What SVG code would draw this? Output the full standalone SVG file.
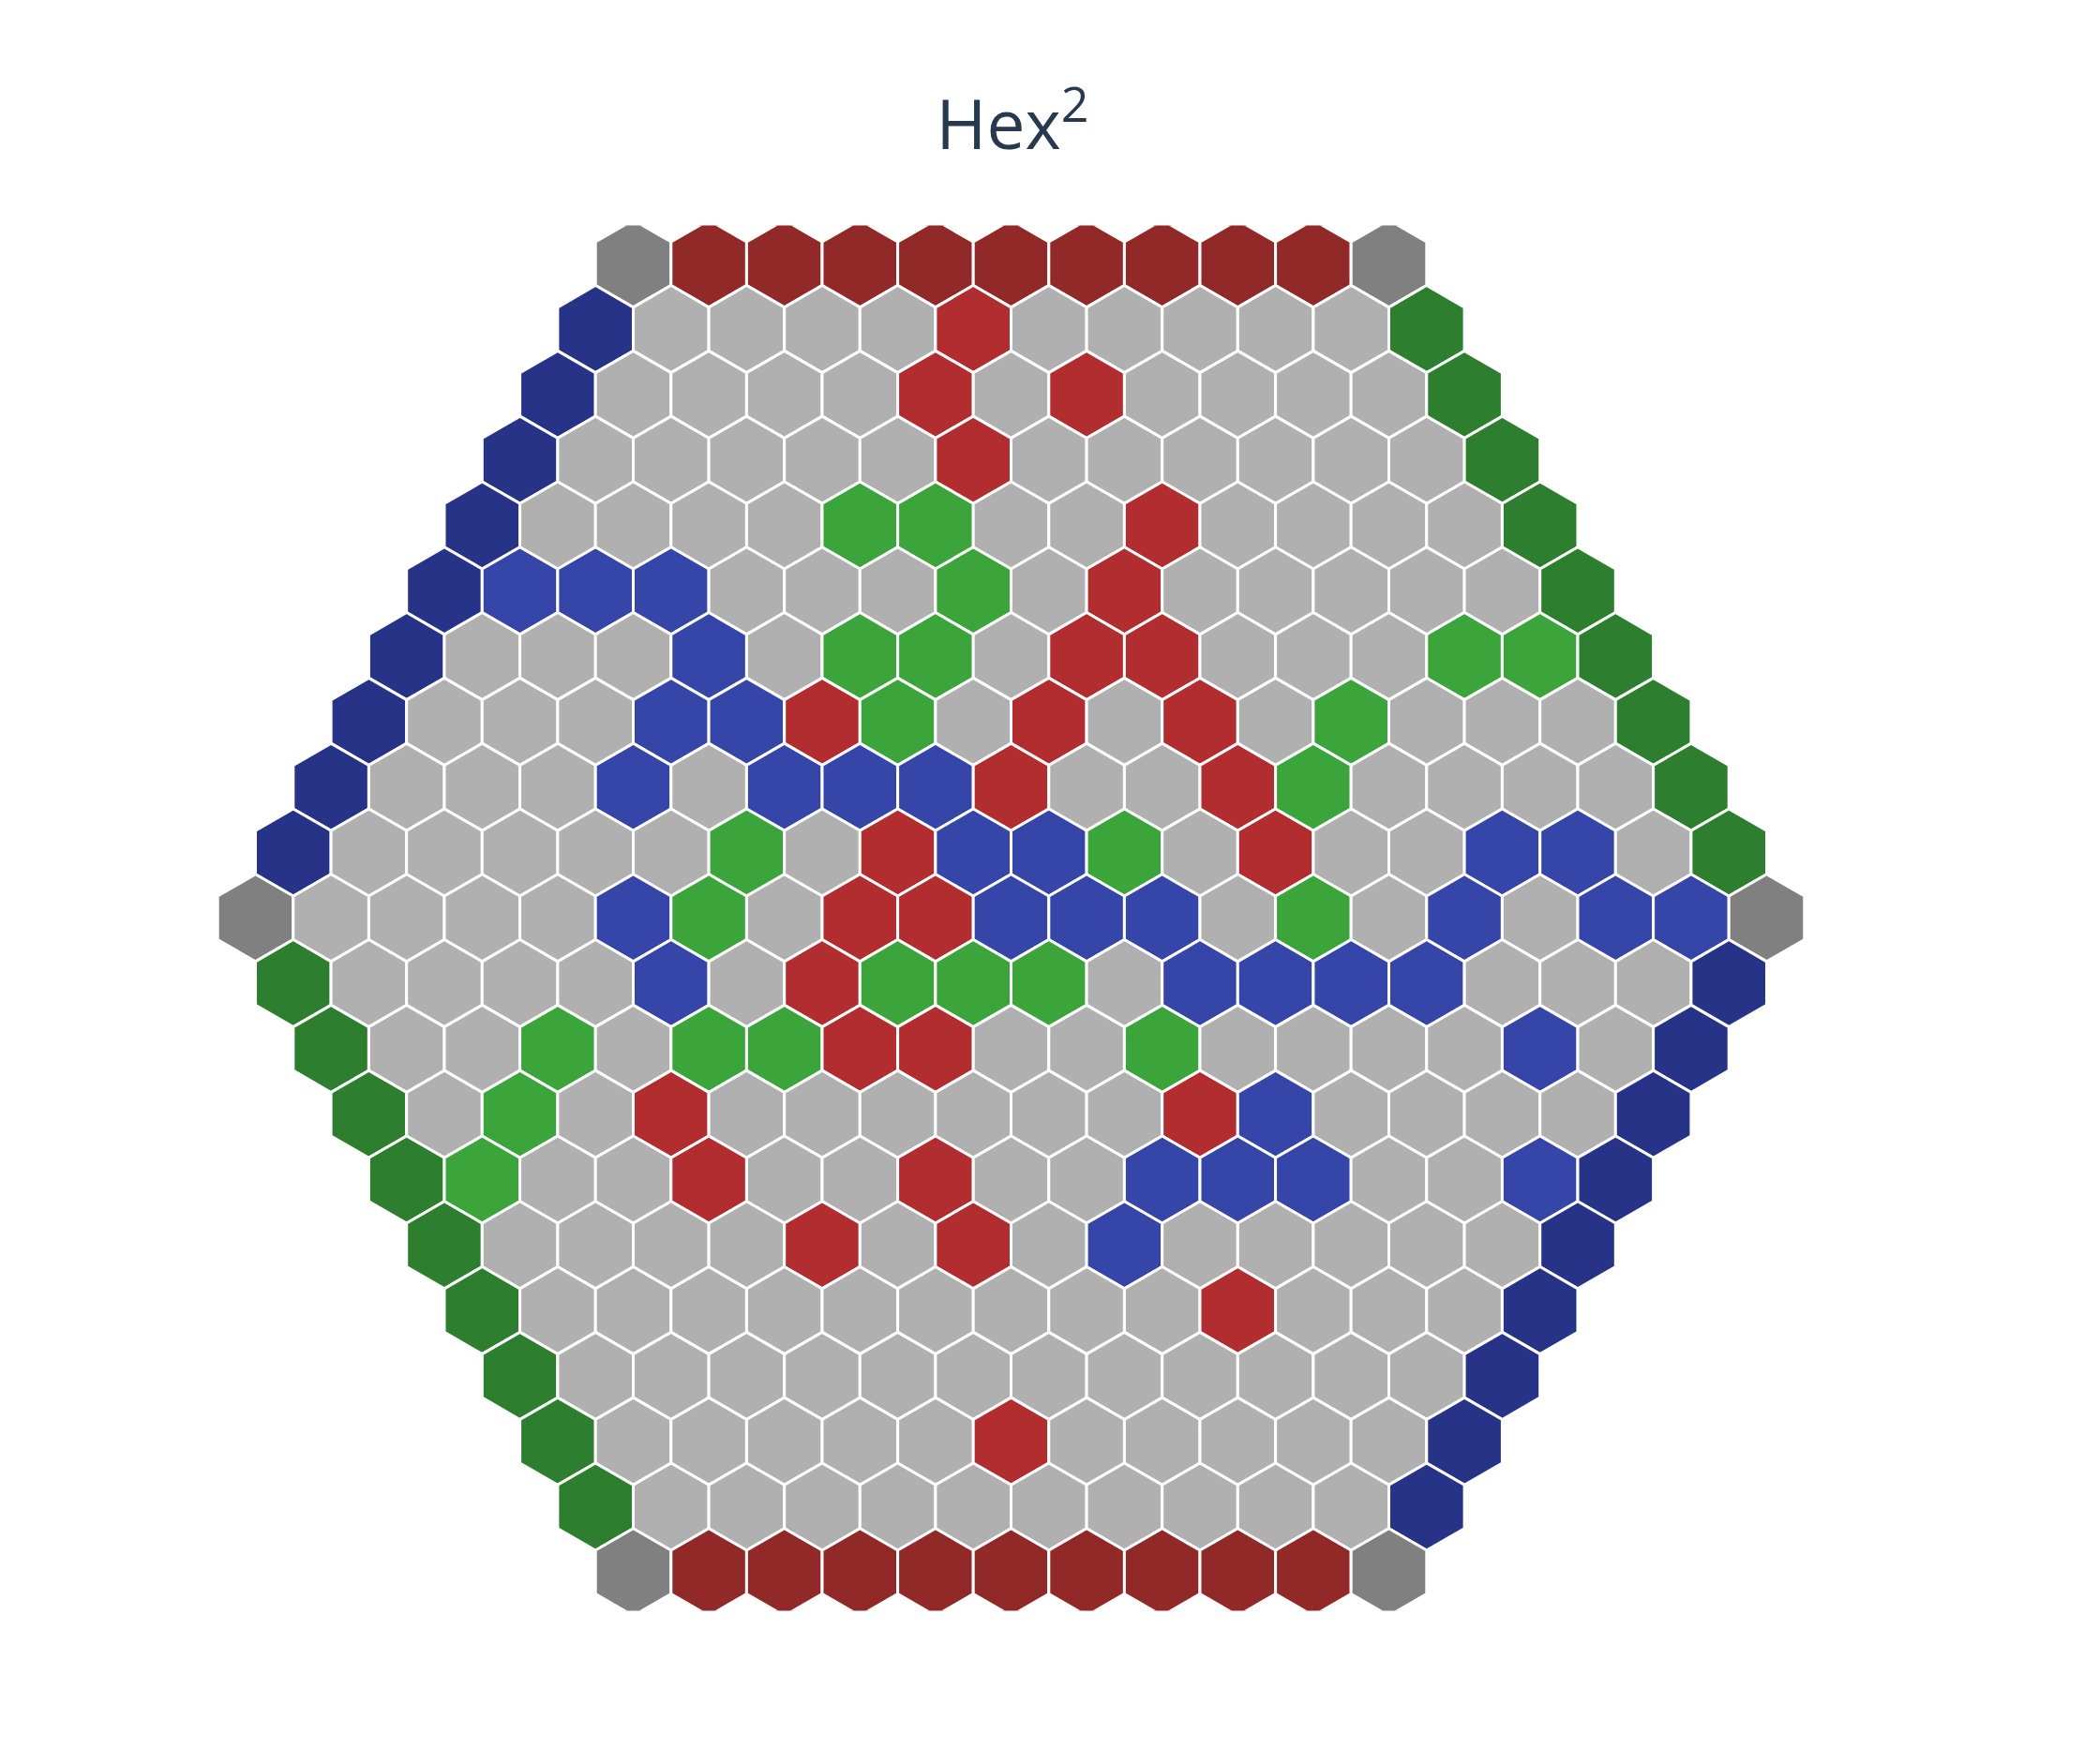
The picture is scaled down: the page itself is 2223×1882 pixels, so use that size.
<svg xmlns="http://www.w3.org/2000/svg" xmlns:xlink="http://www.w3.org/1999/xlink" width="2223" height="1882" viewBox="0 0 2223 1882">
<style>
.row{fill:#b0b0b0}
.c{fill:#808080}
.dr{fill:#922929}
.db{fill:#273387}
.dg{fill:#2d7f2f}
.R{fill:#b22d2f}
.B{fill:#3545a8}
.G{fill:#3ba43a}
.title{font-family:"Open Sans","Noto Sans","Liberation Sans",sans-serif;font-size:73px;fill:#26394f}
</style>
<defs>
<path id="h" d="M0,-46.53L40.3,-23.265L40.3,23.265L0,46.53L-40.3,23.265L-40.3,-23.265Z" stroke="#ffffff" stroke-width="3" stroke-linejoin="miter"/>
<clipPath id="plot"><rect x="0" y="240.6" width="2223" height="1477.8"/></clipPath>
</defs>
<rect width="2223" height="1882" fill="#ffffff"/>
<text class="title" x="1080" y="159" text-anchor="middle">Hex<tspan font-size="52" dy="-29">2</tspan></text>
<g id="board" clip-path="url(#plot)">
<g id="row0" class="row" transform="translate(675.5,281.3)">
<use href="#h" x="0" class="c"/><use href="#h" x="80.6" class="dr"/><use href="#h" x="161.2" class="dr"/><use href="#h" x="241.8" class="dr"/><use href="#h" x="322.4" class="dr"/><use href="#h" x="403" class="dr"/><use href="#h" x="483.6" class="dr"/><use href="#h" x="564.2" class="dr"/><use href="#h" x="644.8" class="dr"/><use href="#h" x="725.4" class="dr"/><use href="#h" x="806" class="c"/>
</g>
<g id="row1" class="row" transform="translate(635.2,351.1)">
<use href="#h" x="0" class="db"/><use href="#h" x="80.6"/><use href="#h" x="161.2"/><use href="#h" x="241.8"/><use href="#h" x="322.4"/><use href="#h" x="403" class="R"/><use href="#h" x="483.6"/><use href="#h" x="564.2"/><use href="#h" x="644.8"/><use href="#h" x="725.4"/><use href="#h" x="806"/><use href="#h" x="886.6" class="dg"/>
</g>
<g id="row2" class="row" transform="translate(594.9,420.9)">
<use href="#h" x="0" class="db"/><use href="#h" x="80.6"/><use href="#h" x="161.2"/><use href="#h" x="241.8"/><use href="#h" x="322.4"/><use href="#h" x="403" class="R"/><use href="#h" x="483.6"/><use href="#h" x="564.2" class="R"/><use href="#h" x="644.8"/><use href="#h" x="725.4"/><use href="#h" x="806"/><use href="#h" x="886.6"/><use href="#h" x="967.2" class="dg"/>
</g>
<g id="row3" class="row" transform="translate(554.6,490.7)">
<use href="#h" x="0" class="db"/><use href="#h" x="80.6"/><use href="#h" x="161.2"/><use href="#h" x="241.8"/><use href="#h" x="322.4"/><use href="#h" x="403"/><use href="#h" x="483.6" class="R"/><use href="#h" x="564.2"/><use href="#h" x="644.8"/><use href="#h" x="725.4"/><use href="#h" x="806"/><use href="#h" x="886.6"/><use href="#h" x="967.2"/><use href="#h" x="1047.8" class="dg"/>
</g>
<g id="row4" class="row" transform="translate(514.3,560.5)">
<use href="#h" x="0" class="db"/><use href="#h" x="80.6"/><use href="#h" x="161.2"/><use href="#h" x="241.8"/><use href="#h" x="322.4"/><use href="#h" x="403" class="G"/><use href="#h" x="483.6" class="G"/><use href="#h" x="564.2"/><use href="#h" x="644.8"/><use href="#h" x="725.4" class="R"/><use href="#h" x="806"/><use href="#h" x="886.6"/><use href="#h" x="967.2"/><use href="#h" x="1047.8"/><use href="#h" x="1128.4" class="dg"/>
</g>
<g id="row5" class="row" transform="translate(474,630.3)">
<use href="#h" x="0" class="db"/><use href="#h" x="80.6" class="B"/><use href="#h" x="161.2" class="B"/><use href="#h" x="241.8" class="B"/><use href="#h" x="322.4"/><use href="#h" x="403"/><use href="#h" x="483.6"/><use href="#h" x="564.2" class="G"/><use href="#h" x="644.8"/><use href="#h" x="725.4" class="R"/><use href="#h" x="806"/><use href="#h" x="886.6"/><use href="#h" x="967.2"/><use href="#h" x="1047.8"/><use href="#h" x="1128.4"/><use href="#h" x="1209" class="dg"/>
</g>
<g id="row6" class="row" transform="translate(433.7,700.1)">
<use href="#h" x="0" class="db"/><use href="#h" x="80.6"/><use href="#h" x="161.2"/><use href="#h" x="241.8"/><use href="#h" x="322.4" class="B"/><use href="#h" x="403"/><use href="#h" x="483.6" class="G"/><use href="#h" x="564.2" class="G"/><use href="#h" x="644.8"/><use href="#h" x="725.4" class="R"/><use href="#h" x="806" class="R"/><use href="#h" x="886.6"/><use href="#h" x="967.2"/><use href="#h" x="1047.8"/><use href="#h" x="1128.4" class="G"/><use href="#h" x="1209" class="G"/><use href="#h" x="1289.6" class="dg"/>
</g>
<g id="row7" class="row" transform="translate(393.4,769.9)">
<use href="#h" x="0" class="db"/><use href="#h" x="80.6"/><use href="#h" x="161.2"/><use href="#h" x="241.8"/><use href="#h" x="322.4" class="B"/><use href="#h" x="403" class="B"/><use href="#h" x="483.6" class="R"/><use href="#h" x="564.2" class="G"/><use href="#h" x="644.8"/><use href="#h" x="725.4" class="R"/><use href="#h" x="806"/><use href="#h" x="886.6" class="R"/><use href="#h" x="967.2"/><use href="#h" x="1047.8" class="G"/><use href="#h" x="1128.4"/><use href="#h" x="1209"/><use href="#h" x="1289.6"/><use href="#h" x="1370.2" class="dg"/>
</g>
<g id="row8" class="row" transform="translate(353.1,839.7)">
<use href="#h" x="0" class="db"/><use href="#h" x="80.6"/><use href="#h" x="161.2"/><use href="#h" x="241.8"/><use href="#h" x="322.4" class="B"/><use href="#h" x="403"/><use href="#h" x="483.6" class="B"/><use href="#h" x="564.2" class="B"/><use href="#h" x="644.8" class="B"/><use href="#h" x="725.4" class="R"/><use href="#h" x="806"/><use href="#h" x="886.6"/><use href="#h" x="967.2" class="R"/><use href="#h" x="1047.8" class="G"/><use href="#h" x="1128.4"/><use href="#h" x="1209"/><use href="#h" x="1289.6"/><use href="#h" x="1370.2"/><use href="#h" x="1450.8" class="dg"/>
</g>
<g id="row9" class="row" transform="translate(312.8,909.5)">
<use href="#h" x="0" class="db"/><use href="#h" x="80.6"/><use href="#h" x="161.2"/><use href="#h" x="241.8"/><use href="#h" x="322.4"/><use href="#h" x="403"/><use href="#h" x="483.6" class="G"/><use href="#h" x="564.2"/><use href="#h" x="644.8" class="R"/><use href="#h" x="725.4" class="B"/><use href="#h" x="806" class="B"/><use href="#h" x="886.6" class="G"/><use href="#h" x="967.2"/><use href="#h" x="1047.8" class="R"/><use href="#h" x="1128.4"/><use href="#h" x="1209"/><use href="#h" x="1289.6" class="B"/><use href="#h" x="1370.2" class="B"/><use href="#h" x="1450.8"/><use href="#h" x="1531.4" class="dg"/>
</g>
<g id="row10" class="row" transform="translate(272.5,979.3)">
<use href="#h" x="0" class="c"/><use href="#h" x="80.6"/><use href="#h" x="161.2"/><use href="#h" x="241.8"/><use href="#h" x="322.4"/><use href="#h" x="403" class="B"/><use href="#h" x="483.6" class="G"/><use href="#h" x="564.2"/><use href="#h" x="644.8" class="R"/><use href="#h" x="725.4" class="R"/><use href="#h" x="806" class="B"/><use href="#h" x="886.6" class="B"/><use href="#h" x="967.2" class="B"/><use href="#h" x="1047.8"/><use href="#h" x="1128.4" class="G"/><use href="#h" x="1209"/><use href="#h" x="1289.6" class="B"/><use href="#h" x="1370.2"/><use href="#h" x="1450.8" class="B"/><use href="#h" x="1531.4" class="B"/><use href="#h" x="1612" class="c"/>
</g>
<g id="row11" class="row" transform="translate(312.8,1049.1)">
<use href="#h" x="0" class="dg"/><use href="#h" x="80.6"/><use href="#h" x="161.2"/><use href="#h" x="241.8"/><use href="#h" x="322.4"/><use href="#h" x="403" class="B"/><use href="#h" x="483.6"/><use href="#h" x="564.2" class="R"/><use href="#h" x="644.8" class="G"/><use href="#h" x="725.4" class="G"/><use href="#h" x="806" class="G"/><use href="#h" x="886.6"/><use href="#h" x="967.2" class="B"/><use href="#h" x="1047.8" class="B"/><use href="#h" x="1128.4" class="B"/><use href="#h" x="1209" class="B"/><use href="#h" x="1289.6"/><use href="#h" x="1370.2"/><use href="#h" x="1450.8"/><use href="#h" x="1531.4" class="db"/>
</g>
<g id="row12" class="row" transform="translate(353.1,1118.9)">
<use href="#h" x="0" class="dg"/><use href="#h" x="80.6"/><use href="#h" x="161.2"/><use href="#h" x="241.8" class="G"/><use href="#h" x="322.4"/><use href="#h" x="403" class="G"/><use href="#h" x="483.6" class="G"/><use href="#h" x="564.2" class="R"/><use href="#h" x="644.8" class="R"/><use href="#h" x="725.4"/><use href="#h" x="806"/><use href="#h" x="886.6" class="G"/><use href="#h" x="967.2"/><use href="#h" x="1047.8"/><use href="#h" x="1128.4"/><use href="#h" x="1209"/><use href="#h" x="1289.6" class="B"/><use href="#h" x="1370.2"/><use href="#h" x="1450.8" class="db"/>
</g>
<g id="row13" class="row" transform="translate(393.4,1188.7)">
<use href="#h" x="0" class="dg"/><use href="#h" x="80.6"/><use href="#h" x="161.2" class="G"/><use href="#h" x="241.8"/><use href="#h" x="322.4" class="R"/><use href="#h" x="403"/><use href="#h" x="483.6"/><use href="#h" x="564.2"/><use href="#h" x="644.8"/><use href="#h" x="725.4"/><use href="#h" x="806"/><use href="#h" x="886.6" class="R"/><use href="#h" x="967.2" class="B"/><use href="#h" x="1047.8"/><use href="#h" x="1128.4"/><use href="#h" x="1209"/><use href="#h" x="1289.6"/><use href="#h" x="1370.2" class="db"/>
</g>
<g id="row14" class="row" transform="translate(433.7,1258.5)">
<use href="#h" x="0" class="dg"/><use href="#h" x="80.6" class="G"/><use href="#h" x="161.2"/><use href="#h" x="241.8"/><use href="#h" x="322.4" class="R"/><use href="#h" x="403"/><use href="#h" x="483.6"/><use href="#h" x="564.2" class="R"/><use href="#h" x="644.8"/><use href="#h" x="725.4"/><use href="#h" x="806" class="B"/><use href="#h" x="886.6" class="B"/><use href="#h" x="967.2" class="B"/><use href="#h" x="1047.8"/><use href="#h" x="1128.4"/><use href="#h" x="1209" class="B"/><use href="#h" x="1289.6" class="db"/>
</g>
<g id="row15" class="row" transform="translate(474,1328.3)">
<use href="#h" x="0" class="dg"/><use href="#h" x="80.6"/><use href="#h" x="161.2"/><use href="#h" x="241.8"/><use href="#h" x="322.4"/><use href="#h" x="403" class="R"/><use href="#h" x="483.6"/><use href="#h" x="564.2" class="R"/><use href="#h" x="644.8"/><use href="#h" x="725.4" class="B"/><use href="#h" x="806"/><use href="#h" x="886.6"/><use href="#h" x="967.2"/><use href="#h" x="1047.8"/><use href="#h" x="1128.4"/><use href="#h" x="1209" class="db"/>
</g>
<g id="row16" class="row" transform="translate(514.3,1398.1)">
<use href="#h" x="0" class="dg"/><use href="#h" x="80.6"/><use href="#h" x="161.2"/><use href="#h" x="241.8"/><use href="#h" x="322.4"/><use href="#h" x="403"/><use href="#h" x="483.6"/><use href="#h" x="564.2"/><use href="#h" x="644.8"/><use href="#h" x="725.4"/><use href="#h" x="806" class="R"/><use href="#h" x="886.6"/><use href="#h" x="967.2"/><use href="#h" x="1047.8"/><use href="#h" x="1128.4" class="db"/>
</g>
<g id="row17" class="row" transform="translate(554.6,1467.9)">
<use href="#h" x="0" class="dg"/><use href="#h" x="80.6"/><use href="#h" x="161.2"/><use href="#h" x="241.8"/><use href="#h" x="322.4"/><use href="#h" x="403"/><use href="#h" x="483.6"/><use href="#h" x="564.2"/><use href="#h" x="644.8"/><use href="#h" x="725.4"/><use href="#h" x="806"/><use href="#h" x="886.6"/><use href="#h" x="967.2"/><use href="#h" x="1047.8" class="db"/>
</g>
<g id="row18" class="row" transform="translate(594.9,1537.7)">
<use href="#h" x="0" class="dg"/><use href="#h" x="80.6"/><use href="#h" x="161.2"/><use href="#h" x="241.8"/><use href="#h" x="322.4"/><use href="#h" x="403"/><use href="#h" x="483.6" class="R"/><use href="#h" x="564.2"/><use href="#h" x="644.8"/><use href="#h" x="725.4"/><use href="#h" x="806"/><use href="#h" x="886.6"/><use href="#h" x="967.2" class="db"/>
</g>
<g id="row19" class="row" transform="translate(635.2,1607.5)">
<use href="#h" x="0" class="dg"/><use href="#h" x="80.6"/><use href="#h" x="161.2"/><use href="#h" x="241.8"/><use href="#h" x="322.4"/><use href="#h" x="403"/><use href="#h" x="483.6"/><use href="#h" x="564.2"/><use href="#h" x="644.8"/><use href="#h" x="725.4"/><use href="#h" x="806"/><use href="#h" x="886.6" class="db"/>
</g>
<g id="row20" class="row" transform="translate(675.5,1677.3)">
<use href="#h" x="0" class="c"/><use href="#h" x="80.6" class="dr"/><use href="#h" x="161.2" class="dr"/><use href="#h" x="241.8" class="dr"/><use href="#h" x="322.4" class="dr"/><use href="#h" x="403" class="dr"/><use href="#h" x="483.6" class="dr"/><use href="#h" x="564.2" class="dr"/><use href="#h" x="644.8" class="dr"/><use href="#h" x="725.4" class="dr"/><use href="#h" x="806" class="c"/>
</g>
</g>
<g id="connectors"/>
</svg>
